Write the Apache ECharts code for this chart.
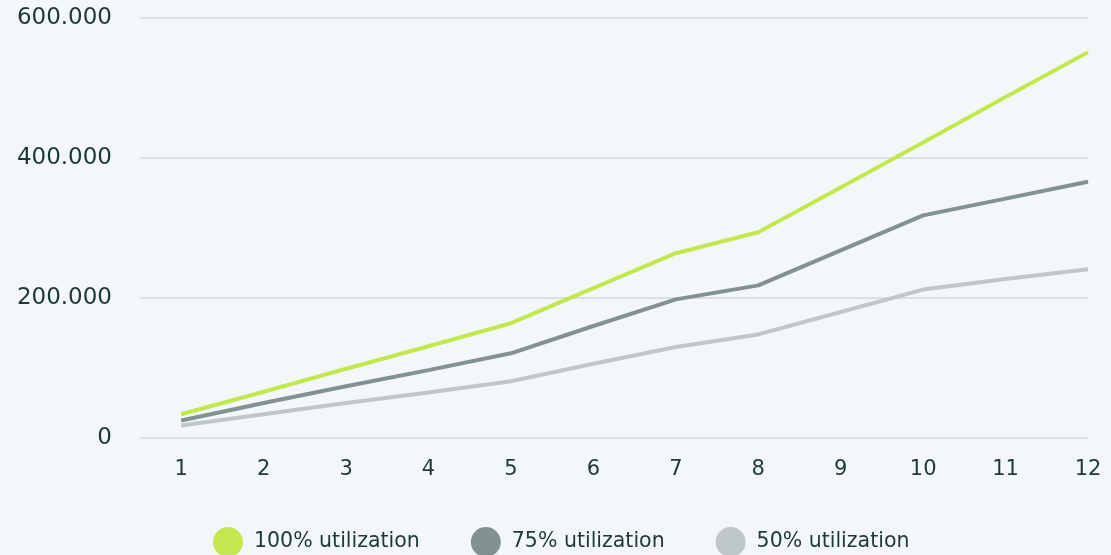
<!DOCTYPE html>
<html>
<head>
<meta charset="utf-8">
<script src="https://cdn.jsdelivr.net/npm/echarts@6/dist/echarts.min.js"></script>
<style>
  html, body { margin: 0; padding: 0; background: #f4f7f9; }
  #chart { width: 1111px; height: 555px; }
</style>
</head>
<body>
<div id="chart"></div>
<script>
const months = [1, 2, 3, 4, 5, 6, 7, 8, 9, 10, 11, 12];
const full = [34000, 66000, 99000, 131000, 164000, 214000, 264000, 294000, 358000, 422000, 487000, 551000];
const threeQuarter = [25000, 50000, 74000, 97000, 121000, 160000, 198000, 218000, 268000, 318000, 342000, 366000];
const half = [18000, 34000, 50000, 65000, 81000, 106000, 130000, 148000, 180000, 212000, 227000, 241000];
const seriesNames = ['100% utilization', '75% utilization', '50% utilization'];
const colors = ['#c3e84e', '#849191', '#bfc7c8'];

const textColor = '#1d3838';
const font = '"DejaVu Sans"';

const chart = echarts.init(document.getElementById('chart'));

const toPoints = (values) => values.map((v, i) => [months[i], v]);

const option = {
  backgroundColor: '#f4f7f9',
  animation: false,
  grid: {
    left: 140,
    right: 23,
    top: 18,
    bottom: 117,
  },
  legend: {
    data: seriesNames,
    left: 208,
    top: 522,
    icon: 'circle',
    itemWidth: 30,
    itemHeight: 30,
    itemGap: 51,
    textStyle: {
      fontFamily: font,
      fontSize: 20.5,
      color: textColor,
      padding: [0, 0, 0, 6],
    },
  },
  xAxis: {
    type: 'value',
    min: 0.5,
    max: 12,
    axisLine: { show: false },
    axisTick: { show: false },
    splitLine: { show: false },
    axisLabel: {
      customValues: months,
      margin: 21,
      fontFamily: font,
      fontSize: 21,
      color: textColor,
    },
  },
  yAxis: {
    type: 'value',
    min: 0,
    max: 600000,
    interval: 200000,
    axisLine: { show: false },
    axisTick: { show: false },
    splitLine: {
      lineStyle: { color: '#d3d9da', width: 1.5 },
    },
    axisLabel: {
      margin: 28,
      fontFamily: font,
      fontSize: 23,
      color: textColor,
      formatter: (v) => (v === 0 ? '0' : (v / 1000) + '.000'),
    },
  },
  series: [
    {
      name: seriesNames[0],
      type: 'line',
      data: toPoints(full),
      symbol: 'none',
      lineStyle: { width: 4, color: colors[0] },
      itemStyle: { color: colors[0] },
      z: 3,
    },
    {
      name: seriesNames[1],
      type: 'line',
      data: toPoints(threeQuarter),
      symbol: 'none',
      lineStyle: { width: 4, color: colors[1] },
      itemStyle: { color: colors[1] },
      z: 2,
    },
    {
      name: seriesNames[2],
      type: 'line',
      data: toPoints(half),
      symbol: 'none',
      lineStyle: { width: 4, color: colors[2] },
      itemStyle: { color: colors[2] },
      z: 1,
    },
  ],
};

chart.setOption(option);
window.addEventListener('resize', () => {
  chart.resize();
});
</script>
</body>
</html>
